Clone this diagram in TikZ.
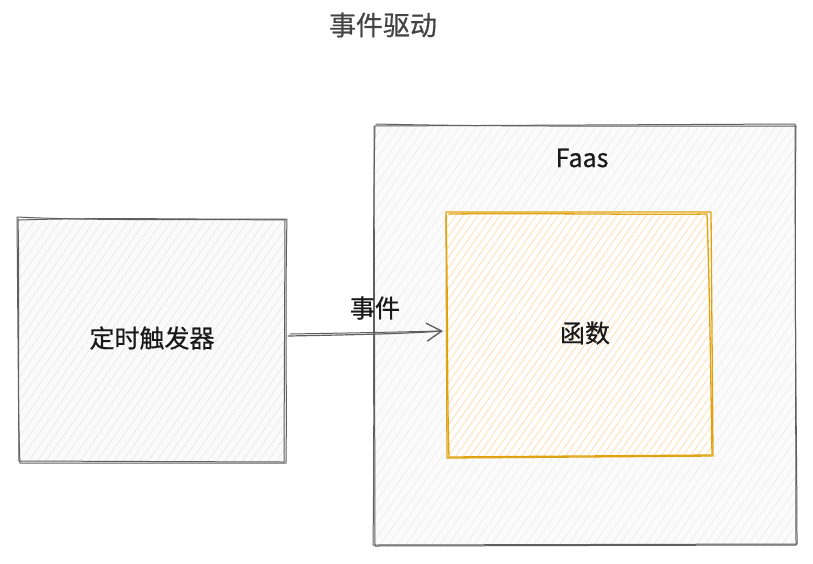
\documentclass[tikz,border=0pt]{standalone}
\usepackage{fontspec}
\newfontfamily\cjk[FakeBold=0.6]{Noto Sans CJK SC}
\usetikzlibrary{arrows.meta,patterns.meta}
\definecolor{strokegray}{HTML}{5F5F5F}
\definecolor{hatchgray}{HTML}{E4E4E4}
\definecolor{boxgray}{HTML}{FBFBFB}
\definecolor{gold}{HTML}{E0A30F}
\definecolor{hatchorange}{HTML}{FFDDB5}
\definecolor{titlegray}{HTML}{444444}
\tikzset{
  x=1pt,y=-1pt,
  rough/.style={line width=1pt, line cap=round, line join=round},
  lbl/.style={font=\cjk\fontsize{25}{30}\selectfont, text=black!90, inner sep=0pt},
}
\begin{document}
\begin{tikzpicture}
\useasboundingbox (0,0) rectangle (813,563);
% left box
\fill[boxgray] (18,218) rectangle (286,462);
\fill[pattern={Lines[angle=55,distance=7pt,line width=0.5pt]},pattern color=hatchgray] (18,218) rectangle (286,462);
\draw[rough,strokegray] (17,217) .. controls (100,221) and (200,219) .. (285,220) -- (284,462) -- (19,461) -- cycle;
\draw[rough,strokegray] (19,220) .. controls (110,217) and (210,220) .. (287,219) .. controls (285,300) and (287,400) .. (286,463) -- (20,463) .. controls (17,400) and (20,300) .. (18,219);
\node[lbl] (trigger) at (152,338) {定时触发器};
% Faas box
\fill[boxgray] (374,125) rectangle (796,546);
\fill[pattern={Lines[angle=55,distance=7pt,line width=0.5pt]},pattern color=hatchgray!80] (374,125) rectangle (796,546);
\draw[rough,strokegray] (374,126) -- (795,124) -- (796,545) -- (375,546) -- cycle;
\draw[rough,strokegray] (376,124) .. controls (500,127) and (700,126) .. (796,126) .. controls (794,300) and (797,450) .. (797,544) -- (373,545) .. controls (375,400) and (372,250) .. (375,127);
\node[lbl] (faas) at (582,158) {Faas};
% function box
\fill[white] (446,213) rectangle (712,456);
\fill[pattern={Lines[angle=55,distance=6pt,line width=0.8pt]},pattern color=hatchorange] (446,213) rectangle (712,456);
\draw[rough,gold,line width=1.3pt] (446,212) -- (711,212) -- (713,456) -- (447,458) -- cycle;
\draw[rough,gold,line width=1.3pt] (449,214) .. controls (550,213) and (650,215) .. (707,214) .. controls (710,300) and (711,400) .. (712,455) -- (449,457) .. controls (447,400) and (448,300) .. (446,215);
\node[lbl] (func) at (585,333) {函数};
% arrow
\coordinate (src) at (288,336);
\coordinate (dst) at (443,331);
\draw[rough,strokegray,line width=1.2pt,-{Straight Barb[length=15pt,width=18pt,line width=1.4pt]}] (src) .. controls (340,335) and (400,334) .. (dst);
\draw[rough,strokegray] (290,334) .. controls (350,333) and (400,332) .. (440,331);
\node[lbl] (evt) at (375,308) {事件};
% title
\node[font=\cjk\fontsize{27}{32}\selectfont, text=titlegray, inner sep=0pt] (title) at (383,25) {事件驱动};
\end{tikzpicture}
\end{document}
